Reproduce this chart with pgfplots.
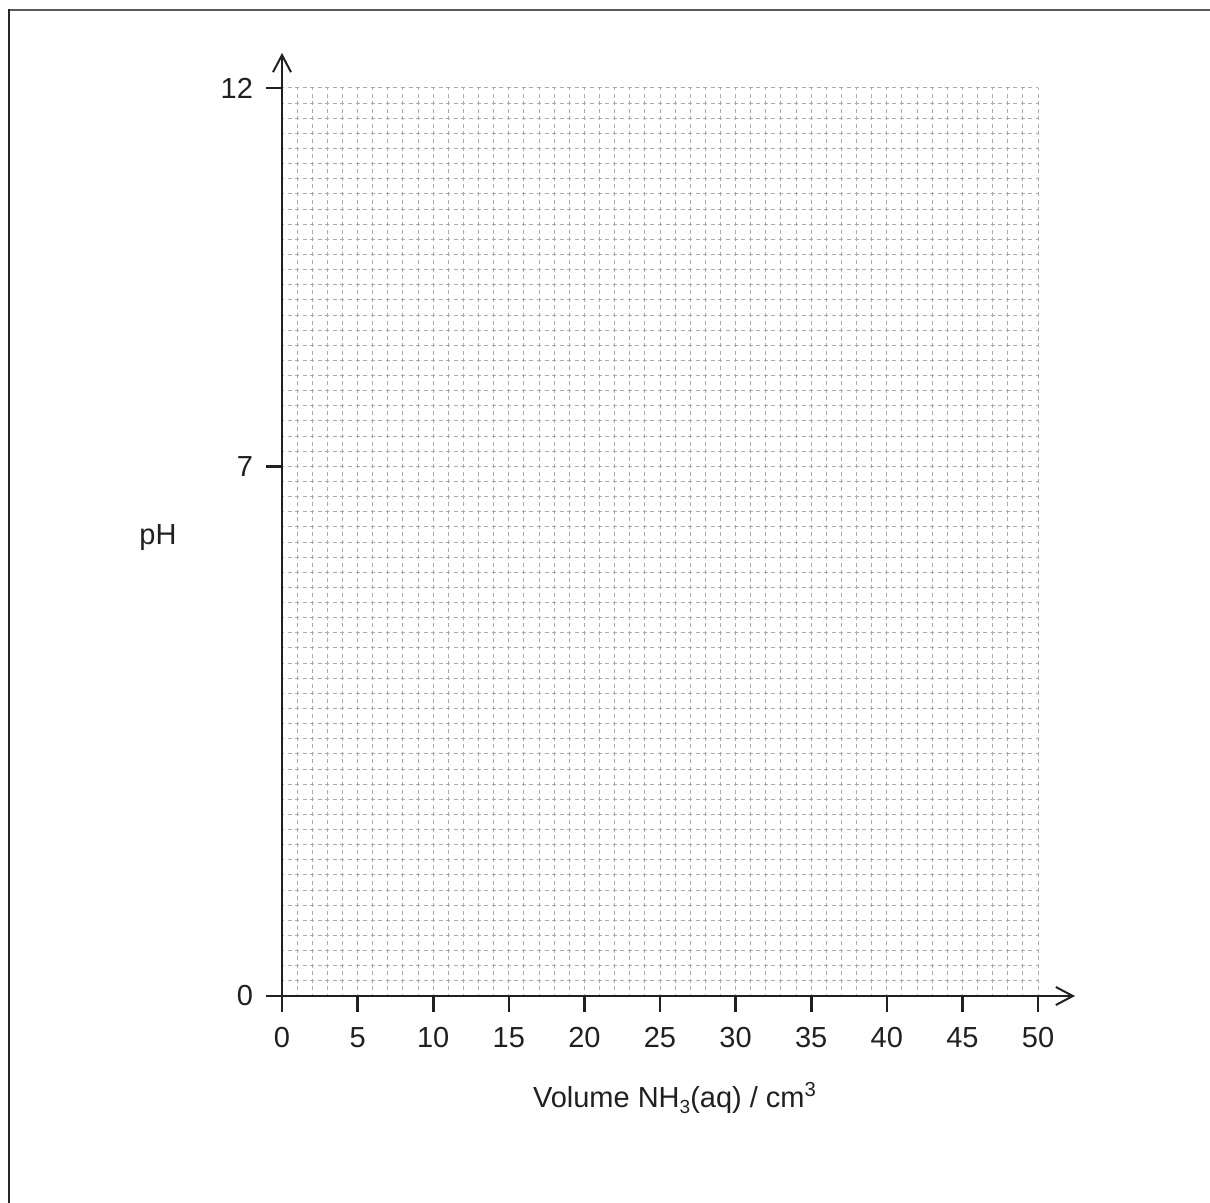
\documentclass[border=0pt]{standalone}
\usepackage{fontspec}
\setmainfont{Liberation Sans}
\usepackage{pgfplots}
\pgfplotsset{compat=1.18}
\usetikzlibrary{arrows.meta}
\definecolor{ink}{HTML}{231F20}
\definecolor{gridc}{HTML}{ABABAB}
\begin{document}
\begin{tikzpicture}
\begin{axis}[
  at={(141pt,-498pt)}, anchor=south west,
  scale only axis, width=378pt, height=454pt,
  xmin=0, xmax=50, ymin=0, ymax=12,
  axis lines=left,
  xtick={0,5,...,50},
  ytick={0,7,12},
  minor xtick={0,1,...,50},
  minor ytick={0,0.2,...,12.1},
  grid=both,
  major x grid style={gridc, line width=0.5pt, dash pattern=on 2pt off 1.7833pt, dash phase=1pt},
  minor x grid style={gridc, line width=0.5pt, dash pattern=on 2pt off 1.7833pt, dash phase=1pt},
  major y grid style={gridc, line width=0.5pt, dash pattern=on 2pt off 1.78pt, dash phase=1pt},
  minor y grid style={gridc, line width=0.5pt, dash pattern=on 2pt off 1.78pt, dash phase=1pt},
  tick align=outside,
  major tick length=8pt,
  minor tick length=0pt,
  major tick style={ink, line width=1.3pt},
  minor tick style={draw=none},
  axis line style={ink, line width=1.3pt},
  x axis line style={-{Straight Barb[length=8.5pt,width=9pt,line width=1pt]}, shorten >=-18.5pt},
  y axis line style={-{Straight Barb[length=8.5pt,width=9pt,line width=1pt]}, shorten >=-17.5pt},
  /pgf/number format/assume math mode=true,
  ticklabel style={font=\fontsize{14.5}{17}\selectfont, text=ink},
  xticklabel style={yshift=-4pt},
  yticklabel style={xshift=-3pt},
]
\addplot[draw=none] coordinates {(0,0) (50,12)};
\end{axis}
\node[anchor=base, font=\fontsize{14.5}{17}\selectfont, text=ink] at (337.5pt,-553.5pt) {Volume NH\raisebox{-0.45ex}{\fontsize{9.5}{11}\selectfont 3}(aq) / cm\textsuperscript{3}};
\node[anchor=base west, inner sep=0pt, font=\fontsize{14.5}{17}\selectfont, text=ink] at (69.5pt,-272.5pt) {pH};
\draw[line width=1pt, black!65] (4.25pt,-5.25pt) -- (605pt,-5.25pt);
\draw[line width=1pt, black!85] (4.25pt,-601.5pt) -- (4.25pt,-4.75pt);
\pgfresetboundingbox
\path[use as bounding box] (0pt,0pt) rectangle (605pt,-601.5pt);
\end{tikzpicture}
\end{document}
